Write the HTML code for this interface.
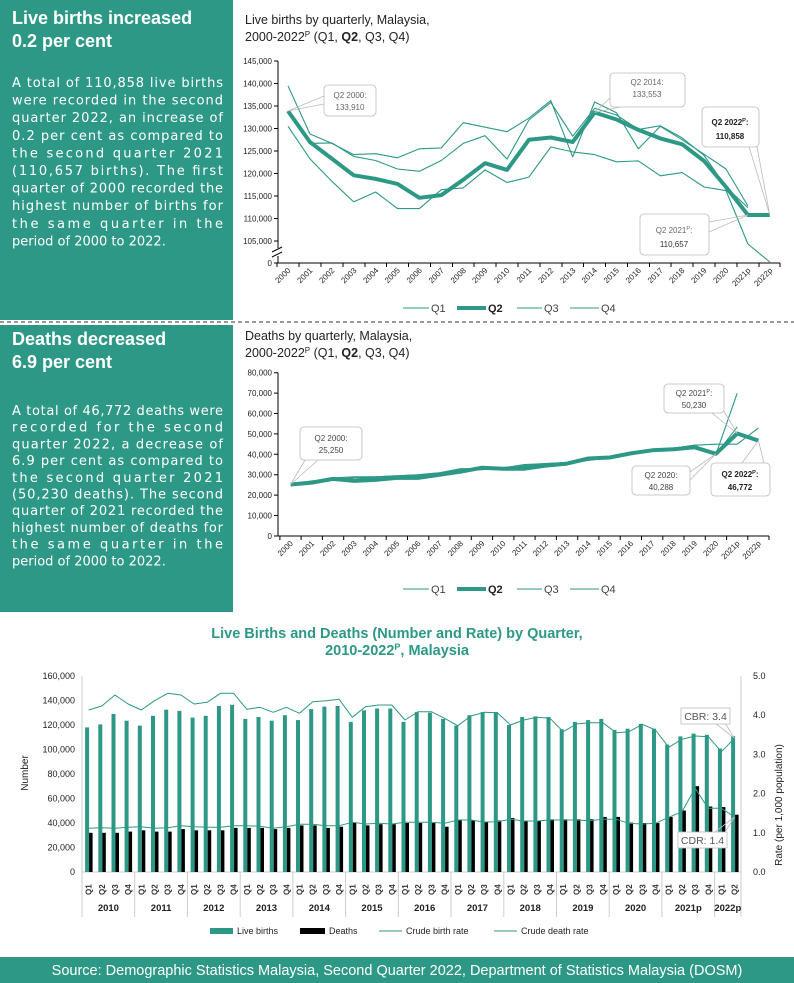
<!DOCTYPE html>
<html><head><meta charset="utf-8"><style>
html,body{margin:0;padding:0;background:#fff}
svg{display:block}
text{font-family:"Liberation Sans",sans-serif}
.bd text{font-family:"DejaVu Sans",sans-serif}
</style></head><body>
<svg width="794" height="983" viewBox="0 0 794 983" xmlns="http://www.w3.org/2000/svg">
<rect x="0" y="0" width="233" height="320" fill="#2d9886"/>
<rect x="0" y="325" width="233" height="287" fill="#2d9886"/>
<line x1="0" y1="322" x2="794" y2="322" stroke="#333" stroke-width="1" stroke-dasharray="4,3"/>
<rect x="0" y="957" width="794" height="26" fill="#2d9886"/>
<text x="397" y="975" fill="#fff" font-size="14.5" text-anchor="middle">Source: Demographic Statistics Malaysia, Second Quarter 2022, Department of Statistics Malaysia (DOSM)</text>

<g fill="#fff">
<text x="12" y="24" font-size="18" font-weight="bold">Live births increased</text>
<text x="12" y="47" font-size="18" font-weight="bold">0.2 per cent</text>
<g font-size="13" class="bd">
<text x="12" y="87" textLength="211" lengthAdjust="spacing">A total of 110,858 live births</text>
<text x="12" y="104.6" textLength="211" lengthAdjust="spacing">were recorded in the second</text>
<text x="12" y="122.2" textLength="211" lengthAdjust="spacing">quarter 2022, an increase of</text>
<text x="12" y="139.8" textLength="211" lengthAdjust="spacing">0.2 per cent as compared to</text>
<text x="12" y="157.4" textLength="211" lengthAdjust="spacing">the second quarter 2021</text>
<text x="12" y="175" textLength="211" lengthAdjust="spacing">(110,657 births). The first</text>
<text x="12" y="192.6" textLength="211" lengthAdjust="spacing">quarter of 2000 recorded the</text>
<text x="12" y="210.2" textLength="211" lengthAdjust="spacing">highest number of births for</text>
<text x="12" y="227.8" textLength="211" lengthAdjust="spacing">the same quarter in the</text>
<text x="12" y="245.4">period of 2000 to 2022.</text>
</g>
<text x="12" y="345" font-size="18" font-weight="bold">Deaths decreased</text>
<text x="12" y="368" font-size="18" font-weight="bold">6.9 per cent</text>
<g font-size="13" class="bd">
<text x="12" y="415" textLength="211" lengthAdjust="spacing">A total of 46,772 deaths were</text>
<text x="12" y="431.7" textLength="211" lengthAdjust="spacing">recorded for the second</text>
<text x="12" y="448.4" textLength="211" lengthAdjust="spacing">quarter 2022, a decrease of</text>
<text x="12" y="465.1" textLength="211" lengthAdjust="spacing">6.9 per cent as compared to</text>
<text x="12" y="481.8" textLength="211" lengthAdjust="spacing">the second quarter 2021</text>
<text x="12" y="498.5" textLength="211" lengthAdjust="spacing">(50,230 deaths). The second</text>
<text x="12" y="515.2" textLength="211" lengthAdjust="spacing">quarter of 2021 recorded the</text>
<text x="12" y="531.9" textLength="211" lengthAdjust="spacing">highest number of deaths for</text>
<text x="12" y="548.6" textLength="211" lengthAdjust="spacing">the same quarter in the</text>
<text x="12" y="565.3">period of 2000 to 2022.</text>
</g>
</g>

<g font-size="12.5" fill="#222">
<text x="245" y="24">Live births by quarterly, Malaysia,</text>
<text x="245" y="41">2000-2022<tspan font-size="8" dy="-4">P</tspan><tspan dy="4">  (Q1, </tspan><tspan font-weight="bold">Q2</tspan>, Q3, Q4)</text>
</g>
<g stroke="#000" stroke-width="1" fill="none">
<line x1="278" y1="61" x2="278" y2="263"/>
<line x1="278" y1="263" x2="780" y2="263"/>
<path d="M274 61h4M274 83.5h4M274 106h4M274 128.5h4M274 151h4M274 173.5h4M274 196h4M274 218.5h4M274 241h4M274 263h4"/>
<path d="M277 263v4M299 263v4M321 263v4M343 263v4M365 263v4M386.5 263v4M408.5 263v4M430.5 263v4M452.5 263v4M474 263v4M496 263v4M518 263v4M540 263v4M562 263v4M583.5 263v4M605.5 263v4M627.5 263v4M649.5 263v4M671 263v4M693 263v4M715 263v4M737 263v4M759 263v4M780 263v4"/>
</g>
<rect x="273" y="248" width="10" height="8" fill="#fff"/>
<path d="M272 252l10-5M272 257l10-5" stroke="#000" stroke-width="1"/>
<g font-size="8" fill="#222" text-anchor="end">
<text x="272" y="64">145,000</text><text x="272" y="86.5">140,000</text><text x="272" y="109">135,000</text><text x="272" y="131.5">130,000</text><text x="272" y="154">125,000</text><text x="272" y="176.5">120,000</text><text x="272" y="199">115,000</text><text x="272" y="221.5">110,000</text><text x="272" y="244">105,000</text><text x="272" y="266">0</text>
</g>
<g font-size="8" fill="#222" text-anchor="end">
<text transform="translate(291,271) rotate(-45)">2000</text><text transform="translate(313,271) rotate(-45)">2001</text><text transform="translate(335,271) rotate(-45)">2002</text><text transform="translate(357,271) rotate(-45)">2003</text><text transform="translate(379,271) rotate(-45)">2004</text><text transform="translate(400.5,271) rotate(-45)">2005</text><text transform="translate(422.5,271) rotate(-45)">2006</text><text transform="translate(444.5,271) rotate(-45)">2007</text><text transform="translate(466.5,271) rotate(-45)">2008</text><text transform="translate(488,271) rotate(-45)">2009</text><text transform="translate(510,271) rotate(-45)">2010</text><text transform="translate(532,271) rotate(-45)">2011</text><text transform="translate(554,271) rotate(-45)">2012</text><text transform="translate(576,271) rotate(-45)">2013</text><text transform="translate(597.5,271) rotate(-45)">2014</text><text transform="translate(619.5,271) rotate(-45)">2015</text><text transform="translate(641.5,271) rotate(-45)">2016</text><text transform="translate(663.5,271) rotate(-45)">2017</text><text transform="translate(685,271) rotate(-45)">2018</text><text transform="translate(707,271) rotate(-45)">2019</text><text transform="translate(729,271) rotate(-45)">2020</text><text transform="translate(751,271) rotate(-45)">2021p</text><text transform="translate(773,271) rotate(-45)">2022p</text>
</g>
<g fill="none" stroke="#2d9886" stroke-width="1.1" stroke-linejoin="round">
<polyline points="288,85.8 309.9,133.9 331.8,143.4 353.7,154.6 375.6,153.7 397.5,157.8 419.4,148.8 441.3,147.9 463.2,122.7 485.1,127.2 507,131.7 528.9,118.2 550.8,100.6 572.7,156.9 594.6,102 616.5,112.8 638.4,148.8 660.3,126.3 682.2,139.8 704.1,154.2 726,169 747.9,205.9"/>
<polyline points="288,126.3 309.9,158.7 331.8,181.2 353.7,201.9 375.6,192 397.5,208.6 419.4,208.6 441.3,189.7 463.2,187.9 485.1,169.9 507,182.5 528.9,177.1 550.8,147 572.7,151.9 594.6,154.6 616.5,161.8 638.4,160.9 660.3,175.8 682.2,172.6 704.1,187 726,190.6 747.9,244 769.8,262"/>
<polyline points="288,111 309.9,143.4 331.8,142.9 353.7,156.4 375.6,160.5 397.5,169 419.4,171.3 441.3,160.5 463.2,143.4 485.1,135.7 507,159.1 528.9,120 550.8,102.4 572.7,136.2 594.6,108.3 616.5,115 638.4,129.4 660.3,125.8 682.2,137.9 704.1,155.5 726,187 747.9,207.7"/>
<polyline stroke-width="4" points="288,111 309.9,142 331.8,158.6 353.7,175.3 375.6,178.9 397.5,183.9 419.4,197.8 441.3,195.1 463.2,179.8 485.1,163.2 507,169.9 528.9,139.8 550.8,137.5 572.7,142 594.6,112.5 616.5,119.5 638.4,129.9 660.3,138.4 682.2,144.3 704.1,161 726,187 747.9,215 769.8,215"/>
</g>
<g stroke="#bbb" stroke-width="0.8" fill="#fff">
<path d="M288 111L324 96M288 111L324 104" fill="none"/>
<path d="M594.6 112.5L612 96M594.6 112.5L620 107" fill="none"/>
<path d="M769.8 215L747 140M769.8 215L757 147" fill="none"/>
<path d="M747.9 215L709 222M747.9 215L709 232" fill="none"/>
<rect x="324" y="85" width="52" height="31" rx="4"/>
<rect x="610" y="73" width="75" height="34" rx="4"/>
<rect x="702" y="107" width="57" height="40" rx="4"/>
<rect x="640" y="214" width="69" height="41" rx="4"/>
</g>
<g font-size="8" fill="#666" text-anchor="middle">
<text x="350" y="98">Q2 2000:</text><text x="350" y="110">133,910</text>
<text x="647" y="85">Q2 2014:</text><text x="647" y="97">133,553</text>
<text x="730" y="125" fill="#222" font-weight="bold">Q2 2022<tspan font-size="5.5" dy="-3">P</tspan><tspan dy="3">:</tspan></text><text x="730" y="139" fill="#222" font-weight="bold">110,858</text>
<text x="674" y="233">Q2 2021<tspan font-size="5.5" dy="-3">P</tspan><tspan dy="3">:</tspan></text><text x="674" y="247" fill="#333">110,657</text>
</g>
<g font-size="11" fill="#444">
<line x1="403" y1="308" x2="429" y2="308" stroke="#2d9886" stroke-width="1"/><text x="431" y="312">Q1</text>
<line x1="457" y1="308" x2="486" y2="308" stroke="#2d9886" stroke-width="4"/><text x="488" y="312" font-weight="bold" fill="#222">Q2</text>
<line x1="517" y1="308" x2="542" y2="308" stroke="#2d9886" stroke-width="1"/><text x="544" y="312">Q3</text>
<line x1="570" y1="308" x2="599" y2="308" stroke="#2d9886" stroke-width="1"/><text x="601" y="312">Q4</text>
</g>

<g font-size="12.5" fill="#222">
<text x="245" y="340">Deaths by quarterly, Malaysia,</text>
<text x="245" y="357">2000-2022<tspan font-size="8" dy="-4">P</tspan><tspan dy="4">  (Q1, </tspan><tspan font-weight="bold">Q2</tspan>, Q3, Q4)</text>
</g>
<g stroke="#000" stroke-width="1" fill="none">
<line x1="278" y1="372.7" x2="278" y2="536"/>
<line x1="278" y1="536" x2="769" y2="536"/>
<path d="M274 372.7h4M274 393.1h4M274 413.5h4M274 433.9h4M274 454.3h4M274 474.7h4M274 495.1h4M274 515.5h4M274 536h4"/>
<path d="M279.9 536v4M301.1 536v4M322.4 536v4M343.7 536v4M365 536v4M386.2 536v4M407.5 536v4M428.8 536v4M450 536v4M471.3 536v4M492.6 536v4M513.9 536v4M535.1 536v4M556.4 536v4M577.7 536v4M598.9 536v4M620.2 536v4M641.5 536v4M662.8 536v4M684 536v4M705.3 536v4M726.6 536v4M747.8 536v4M769 536v4"/>
</g>
<g font-size="8" fill="#222" text-anchor="end">
<text x="272" y="375.7">80,000</text><text x="272" y="396.1">70,000</text><text x="272" y="416.5">60,000</text><text x="272" y="436.9">50,000</text><text x="272" y="457.3">40,000</text><text x="272" y="477.7">30,000</text><text x="272" y="498.1">20,000</text><text x="272" y="518.5">10,000</text><text x="272" y="539">0</text>
</g>
<g font-size="8" fill="#222" text-anchor="end">
<text transform="translate(293.5,544) rotate(-45)">2000</text><text transform="translate(314.8,544) rotate(-45)">2001</text><text transform="translate(336,544) rotate(-45)">2002</text><text transform="translate(357.3,544) rotate(-45)">2003</text><text transform="translate(378.6,544) rotate(-45)">2004</text><text transform="translate(399.9,544) rotate(-45)">2005</text><text transform="translate(421.1,544) rotate(-45)">2006</text><text transform="translate(442.4,544) rotate(-45)">2007</text><text transform="translate(463.7,544) rotate(-45)">2008</text><text transform="translate(485,544) rotate(-45)">2009</text><text transform="translate(506.2,544) rotate(-45)">2010</text><text transform="translate(527.5,544) rotate(-45)">2011</text><text transform="translate(548.7,544) rotate(-45)">2012</text><text transform="translate(570,544) rotate(-45)">2013</text><text transform="translate(591.3,544) rotate(-45)">2014</text><text transform="translate(612.6,544) rotate(-45)">2015</text><text transform="translate(633.8,544) rotate(-45)">2016</text><text transform="translate(655.1,544) rotate(-45)">2017</text><text transform="translate(676.4,544) rotate(-45)">2018</text><text transform="translate(697.6,544) rotate(-45)">2019</text><text transform="translate(718.9,544) rotate(-45)">2020</text><text transform="translate(740.2,544) rotate(-45)">2021p</text><text transform="translate(761.4,544) rotate(-45)">2022p</text>
</g>
<g fill="none" stroke="#2d9886" stroke-width="1.1" stroke-linejoin="round">
<polyline points="290.5,484 311.8,483 333,479.9 354.3,477.9 375.6,477.9 396.9,476.8 418.1,475.8 439.4,473.8 460.7,470.7 482,469.7 503.2,467.7 524.5,464.6 545.7,463.6 567,462.6 588.3,459.5 609.6,456.4 630.8,452.4 652.1,449.3 673.4,448.3 694.6,445.2 715.9,444.2 737.2,444.2 758.4,427.9"/>
<polyline points="290.5,485 311.8,481.9 333,477.9 354.3,476.8 375.6,476.8 396.9,475.8 418.1,474.8 439.4,472.8 460.7,469.7 482,467.7 503.2,468.7 524.5,466.6 545.7,464.6 567,463.6 588.3,460.5 609.6,457.5 630.8,452.4 652.1,451.3 673.4,450.3 694.6,448.3 715.9,454.4 737.2,393.2"/>
<polyline points="290.5,484 311.8,480.9 333,478.9 354.3,477.9 375.6,476.8 396.9,475.8 418.1,474.8 439.4,472.8 460.7,468.7 482,468.7 503.2,468.7 524.5,465.6 545.7,463.6 567,462.6 588.3,459.5 609.6,456.4 630.8,452.4 652.1,450.3 673.4,448.3 694.6,445.2 715.9,454.4 737.2,426.9"/>
<polyline stroke-width="4" points="290.5,484.5 311.8,482.6 333,478.9 354.3,480.9 375.6,479.9 396.9,477.9 418.1,477.9 439.4,474.8 460.7,471.7 482,467.7 503.2,468.7 524.5,468.7 545.7,465.6 567,463.6 588.3,458.5 609.6,457.5 630.8,453.4 652.1,450.3 673.4,449.3 694.6,447.3 715.9,453.8 737.2,433.5 758.4,440.6"/>
</g>
<g stroke="#bbb" stroke-width="0.8" fill="#fff">
<path d="M290.5 484.5L305 460M290.5 484.5L318 460" fill="none"/>
<path d="M737.2 433.5L712 413M737.2 433.5L722 408" fill="none"/>
<path d="M715.9 453.8L690 472M715.9 453.8L690 480" fill="none"/>
<path d="M758.4 440.6L742 463M758.4 440.6L764 463" fill="none"/>
<rect x="300" y="427" width="62" height="33" rx="4"/>
<rect x="664" y="384" width="60" height="29" rx="4"/>
<rect x="632" y="466" width="58" height="29" rx="4"/>
<rect x="711" y="463" width="59" height="33" rx="4"/>
</g>
<g font-size="8" fill="#444" text-anchor="middle">
<text x="331" y="441">Q2 2000:</text><text x="331" y="453">25,250</text>
<text x="694" y="396">Q2 2021<tspan font-size="5.5" dy="-3">P</tspan><tspan dy="3">:</tspan></text><text x="694" y="408">50,230</text>
<text x="661" y="478">Q2 2020:</text><text x="661" y="490">40,288</text>
<text x="740" y="477" fill="#222" font-weight="bold">Q2 2022<tspan font-size="5.5" dy="-3">P</tspan><tspan dy="3">:</tspan></text><text x="740" y="490" fill="#222" font-weight="bold">46,772</text>
</g>
<g font-size="11" fill="#444">
<line x1="403" y1="589" x2="429" y2="589" stroke="#2d9886" stroke-width="1"/><text x="431" y="593">Q1</text>
<line x1="457" y1="589" x2="486" y2="589" stroke="#2d9886" stroke-width="4"/><text x="488" y="593" font-weight="bold" fill="#222">Q2</text>
<line x1="517" y1="589" x2="542" y2="589" stroke="#2d9886" stroke-width="1"/><text x="544" y="593">Q3</text>
<line x1="570" y1="589" x2="599" y2="589" stroke="#2d9886" stroke-width="1"/><text x="601" y="593">Q4</text>
</g>

<g font-size="14.5" font-weight="bold" fill="#2d9886" text-anchor="middle">
<text x="397" y="638">Live Births  and Deaths (Number and Rate) by Quarter,</text>
<text x="397" y="655">2010-2022<tspan font-size="9" dy="-5">P</tspan><tspan dy="5">, Malaysia</tspan></text>
</g>
<g font-size="9" fill="#222" text-anchor="end">
<text x="75" y="679">160,000</text><text x="75" y="703.5">140,000</text><text x="75" y="728">120,000</text><text x="75" y="752.5">100,000</text><text x="75" y="777">80,000</text><text x="75" y="801.5">60,000</text><text x="75" y="826">40,000</text><text x="75" y="850.5">20,000</text><text x="75" y="875">0</text>
</g>
<g font-size="9" fill="#222">
<text x="753" y="679">5.0</text><text x="753" y="718.2">4.0</text><text x="753" y="757.4">3.0</text><text x="753" y="796.6">2.0</text><text x="753" y="835.8">1.0</text><text x="753" y="875">0.0</text>
</g>
<text transform="translate(28,773) rotate(-90)" font-size="10" text-anchor="middle" fill="#222">Number</text>
<text transform="translate(782,805) rotate(-90)" font-size="10" text-anchor="middle" fill="#222">Rate (per 1,000 population)</text>
<g stroke="#ccc" stroke-width="1">
<line x1="82" y1="676" x2="82" y2="872"/><line x1="741" y1="676" x2="741" y2="872"/>
<line x1="82" y1="872" x2="741" y2="872"/>
<path d="M82 872v45M134.7 872v45M187.4 872v45M240.2 872v45M292.9 872v45M345.6 872v45M398.3 872v45M451 872v45M503.8 872v45M556.5 872v45M609.2 872v45M661.9 872v45M714.6 872v45M741 872v45"/>
</g>
<g transform="translate(0,872) scale(1,-1)" fill="#2d9886">
<rect x="85.1" y="0" width="4" height="144.6"/><rect x="98.3" y="0" width="4" height="147.6"/><rect x="111.5" y="0" width="4" height="158"/><rect x="124.6" y="0" width="4" height="151.3"/>
<rect x="137.8" y="0" width="4" height="146.4"/><rect x="151" y="0" width="4" height="156.2"/><rect x="164.2" y="0" width="4" height="162.3"/><rect x="177.4" y="0" width="4" height="161.1"/>
<rect x="190.6" y="0" width="4" height="154.4"/><rect x="203.7" y="0" width="4" height="156.2"/><rect x="216.9" y="0" width="4" height="166"/><rect x="230.1" y="0" width="4" height="167.2"/>
<rect x="243.3" y="0" width="4" height="153.1"/><rect x="256.5" y="0" width="4" height="155"/><rect x="269.7" y="0" width="4" height="151.3"/><rect x="282.9" y="0" width="4" height="156.8"/>
<rect x="296" y="0" width="4" height="151.9"/><rect x="309.2" y="0" width="4" height="162.9"/><rect x="322.4" y="0" width="4" height="165.4"/><rect x="335.6" y="0" width="4" height="166"/>
<rect x="348.8" y="0" width="4" height="150.1"/><rect x="362" y="0" width="4" height="161.7"/><rect x="375.1" y="0" width="4" height="163.5"/><rect x="388.3" y="0" width="4" height="163.5"/>
<rect x="401.5" y="0" width="4" height="150.1"/><rect x="414.7" y="0" width="4" height="159.9"/><rect x="427.9" y="0" width="4" height="159.3"/><rect x="441.1" y="0" width="4" height="153.1"/>
<rect x="454.3" y="0" width="4" height="146.4"/><rect x="467.4" y="0" width="4" height="156.8"/><rect x="480.6" y="0" width="4" height="159.9"/><rect x="493.8" y="0" width="4" height="159.9"/>
<rect x="507" y="0" width="4" height="147"/><rect x="520.2" y="0" width="4" height="155"/><rect x="533.4" y="0" width="4" height="155.6"/><rect x="546.5" y="0" width="4" height="155"/>
<rect x="559.7" y="0" width="4" height="142.7"/><rect x="572.9" y="0" width="4" height="150.1"/><rect x="586.1" y="0" width="4" height="151.9"/><rect x="599.3" y="0" width="4" height="153.1"/>
<rect x="612.5" y="0" width="4" height="142.1"/><rect x="625.6" y="0" width="4" height="143.3"/><rect x="638.8" y="0" width="4" height="148.2"/><rect x="652" y="0" width="4" height="143.3"/>
<rect x="665.2" y="0" width="4" height="127.4"/><rect x="678.4" y="0" width="4" height="135.6"/><rect x="691.6" y="0" width="4" height="138.4"/><rect x="704.8" y="0" width="4" height="137.2"/>
<rect x="717.9" y="0" width="4" height="123.5"/><rect x="731.1" y="0" width="4" height="135.9"/>
</g>
<g transform="translate(0,872) scale(1,-1)" fill="#000">
<rect x="89.1" y="0" width="3.5" height="39.2"/><rect x="102.3" y="0" width="3.5" height="39.2"/><rect x="115.5" y="0" width="3.5" height="39.2"/><rect x="128.6" y="0" width="3.5" height="40.4"/>
<rect x="141.8" y="0" width="3.5" height="41.7"/><rect x="155" y="0" width="3.5" height="40.4"/><rect x="168.2" y="0" width="3.5" height="40.4"/><rect x="181.4" y="0" width="3.5" height="42.9"/>
<rect x="194.6" y="0" width="3.5" height="41.7"/><rect x="207.7" y="0" width="3.5" height="41.7"/><rect x="220.9" y="0" width="3.5" height="41.7"/><rect x="234.1" y="0" width="3.5" height="44.1"/>
<rect x="247.3" y="0" width="3.5" height="44.1"/><rect x="260.5" y="0" width="3.5" height="44.1"/><rect x="273.7" y="0" width="3.5" height="42.9"/><rect x="286.9" y="0" width="3.5" height="44.1"/>
<rect x="300" y="0" width="3.5" height="46.6"/><rect x="313.2" y="0" width="3.5" height="46.6"/><rect x="326.4" y="0" width="3.5" height="44.1"/><rect x="339.6" y="0" width="3.5" height="45.3"/>
<rect x="352.8" y="0" width="3.5" height="49"/><rect x="366" y="0" width="3.5" height="46.6"/><rect x="379.1" y="0" width="3.5" height="47.8"/><rect x="392.3" y="0" width="3.5" height="47.8"/>
<rect x="405.5" y="0" width="3.5" height="49"/><rect x="418.7" y="0" width="3.5" height="49"/><rect x="431.9" y="0" width="3.5" height="49"/><rect x="445.1" y="0" width="3.5" height="45.3"/>
<rect x="458.3" y="0" width="3.5" height="51.5"/><rect x="471.4" y="0" width="3.5" height="51.5"/><rect x="484.6" y="0" width="3.5" height="50.2"/><rect x="497.8" y="0" width="3.5" height="51.5"/>
<rect x="511" y="0" width="3.5" height="53.9"/><rect x="524.2" y="0" width="3.5" height="51.5"/><rect x="537.4" y="0" width="3.5" height="51.5"/><rect x="550.5" y="0" width="3.5" height="52.7"/>
<rect x="563.7" y="0" width="3.5" height="52.7"/><rect x="576.9" y="0" width="3.5" height="52.7"/><rect x="590.1" y="0" width="3.5" height="52.7"/><rect x="603.3" y="0" width="3.5" height="55.1"/>
<rect x="616.5" y="0" width="3.5" height="55.1"/><rect x="629.6" y="0" width="3.5" height="49.4"/><rect x="642.8" y="0" width="3.5" height="49"/><rect x="656" y="0" width="3.5" height="49"/>
<rect x="669.2" y="0" width="3.5" height="55.1"/><rect x="682.4" y="0" width="3.5" height="61.5"/><rect x="695.6" y="0" width="3.5" height="85.8"/><rect x="708.8" y="0" width="3.5" height="65.5"/>
<rect x="721.9" y="0" width="3.5" height="64.9"/><rect x="735.1" y="0" width="3.5" height="57.3"/>
</g>
<g fill="none" stroke="#2d9886" stroke-width="1" stroke-linejoin="round">
<polyline points="88.6,710 101.8,706 115,695 128.1,704 141.3,710 154.5,700.7 167.7,693.3 180.9,695 194.1,704 207.2,702.3 220.4,693.3 233.6,693.3 246.8,709.3 260,707.3 273.2,712.3 286.4,707.3 299.5,713.3 312.7,701.7 325.9,700.7 339.1,699.3 352.3,717.3 365.5,706.7 378.6,705 391.8,705 405,720 418.2,711.7 431.4,711.7 444.6,718.3 457.8,725.7 470.9,716 484.1,712.3 497.3,712.7 510.5,725 523.7,720 536.9,717.3 550,718.3 563.2,731.7 576.4,724 589.6,722.7 602.8,722.7 616,732.7 629.1,731.7 642.3,724.3 655.5,730 668.7,747.3 681.9,739.3 695.1,736 708.3,736.7 721.4,751.7 734.6,738.3"/>
<polyline points="88.6,828.3 101.8,827.7 115,828.3 128.1,827.3 141.3,826.7 154.5,828.3 167.7,827.7 180.9,825.7 194.1,826.7 207.2,827.3 220.4,827.3 233.6,825.7 246.8,825.7 260,826.3 273.2,828.3 286.4,826.7 299.5,824.3 312.7,824.3 325.9,825.7 339.1,825.7 352.3,822.3 365.5,824 378.6,823.3 391.8,824 405,822.3 418.2,822.3 431.4,822.3 444.6,823.3 457.8,820 470.9,820 484.1,822 497.3,821.7 510.5,819.3 523.7,821 536.9,821 550,820 563.2,820 576.4,820 589.6,820.7 602.8,819.3 616,819.3 629.1,823.3 642.3,824 655.5,823.3 668.7,817.3 681.9,811.7 695.1,788.3 708.3,808.3 721.4,808.3 734.6,817"/>
</g>
<g stroke="#bbb" stroke-width="0.8" fill="#fff">
<path d="M734.6 738.3L715 723M734.6 738.3L725 723" fill="none"/>
<path d="M734.6 817L715 832M734.6 817L725 832" fill="none"/>
<rect x="681" y="708" width="49" height="16"/>
<rect x="678" y="832" width="49" height="16"/>
</g>
<text x="705.5" y="720" font-size="10.5" fill="#555" text-anchor="middle">CBR: 3.4</text>
<text x="702.5" y="844" font-size="10.5" fill="#555" text-anchor="middle">CDR:  1.4</text>
<g font-size="8" font-weight="bold" fill="#333">
<text transform="translate(91.6,895) rotate(-90)">Q1</text><text transform="translate(104.8,895) rotate(-90)">Q2</text><text transform="translate(118,895) rotate(-90)">Q3</text><text transform="translate(131.1,895) rotate(-90)">Q4</text>
<text transform="translate(144.3,895) rotate(-90)">Q1</text><text transform="translate(157.5,895) rotate(-90)">Q2</text><text transform="translate(170.7,895) rotate(-90)">Q3</text><text transform="translate(183.9,895) rotate(-90)">Q4</text>
<text transform="translate(197.1,895) rotate(-90)">Q1</text><text transform="translate(210.2,895) rotate(-90)">Q2</text><text transform="translate(223.4,895) rotate(-90)">Q3</text><text transform="translate(236.6,895) rotate(-90)">Q4</text>
<text transform="translate(249.8,895) rotate(-90)">Q1</text><text transform="translate(263,895) rotate(-90)">Q2</text><text transform="translate(276.2,895) rotate(-90)">Q3</text><text transform="translate(289.4,895) rotate(-90)">Q4</text>
<text transform="translate(302.5,895) rotate(-90)">Q1</text><text transform="translate(315.7,895) rotate(-90)">Q2</text><text transform="translate(328.9,895) rotate(-90)">Q3</text><text transform="translate(342.1,895) rotate(-90)">Q4</text>
<text transform="translate(355.3,895) rotate(-90)">Q1</text><text transform="translate(368.5,895) rotate(-90)">Q2</text><text transform="translate(381.6,895) rotate(-90)">Q3</text><text transform="translate(394.8,895) rotate(-90)">Q4</text>
<text transform="translate(408,895) rotate(-90)">Q1</text><text transform="translate(421.2,895) rotate(-90)">Q2</text><text transform="translate(434.4,895) rotate(-90)">Q3</text><text transform="translate(447.6,895) rotate(-90)">Q4</text>
<text transform="translate(460.8,895) rotate(-90)">Q1</text><text transform="translate(473.9,895) rotate(-90)">Q2</text><text transform="translate(487.1,895) rotate(-90)">Q3</text><text transform="translate(500.3,895) rotate(-90)">Q4</text>
<text transform="translate(513.5,895) rotate(-90)">Q1</text><text transform="translate(526.7,895) rotate(-90)">Q2</text><text transform="translate(539.9,895) rotate(-90)">Q3</text><text transform="translate(553,895) rotate(-90)">Q4</text>
<text transform="translate(566.2,895) rotate(-90)">Q1</text><text transform="translate(579.4,895) rotate(-90)">Q2</text><text transform="translate(592.6,895) rotate(-90)">Q3</text><text transform="translate(605.8,895) rotate(-90)">Q4</text>
<text transform="translate(619,895) rotate(-90)">Q1</text><text transform="translate(632.1,895) rotate(-90)">Q2</text><text transform="translate(645.3,895) rotate(-90)">Q3</text><text transform="translate(658.5,895) rotate(-90)">Q4</text>
<text transform="translate(671.7,895) rotate(-90)">Q1</text><text transform="translate(684.9,895) rotate(-90)">Q2</text><text transform="translate(698.1,895) rotate(-90)">Q3</text><text transform="translate(711.3,895) rotate(-90)">Q4</text>
<text transform="translate(724.4,895) rotate(-90)">Q1</text><text transform="translate(737.6,895) rotate(-90)">Q2</text>
</g>
<g font-size="9.5" font-weight="bold" fill="#222" text-anchor="middle">
<text x="108.4" y="911">2010</text><text x="161.1" y="911">2011</text><text x="213.8" y="911">2012</text><text x="266.5" y="911">2013</text><text x="319.3" y="911">2014</text><text x="372" y="911">2015</text><text x="424.7" y="911">2016</text><text x="477.4" y="911">2017</text><text x="530.2" y="911">2018</text><text x="582.9" y="911">2019</text><text x="635.6" y="911">2020</text><text x="688.3" y="911">2021p</text><text x="727.8" y="911">2022p</text>
</g>
<g font-size="9" fill="#222">
<rect x="210" y="928" width="23" height="6" fill="#2d9886"/><text x="237" y="934">Live births</text>
<rect x="300" y="928" width="25" height="6" fill="#000"/><text x="329" y="934">Deaths</text>
<line x1="379" y1="931" x2="402" y2="931" stroke="#2d9886" stroke-width="1"/><text x="406" y="934">Crude birth rate</text>
<line x1="494" y1="931" x2="517" y2="931" stroke="#2d9886" stroke-width="1"/><text x="521" y="934">Crude death rate</text>
</g>
</svg>
</body></html>
